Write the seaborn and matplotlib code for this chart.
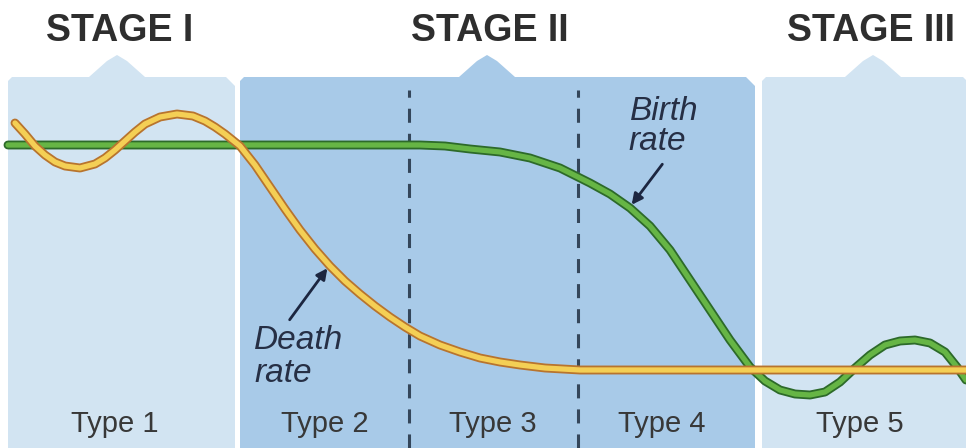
import matplotlib
matplotlib.use("Agg")
import matplotlib.pyplot as plt
import matplotlib.patheffects as pe
from matplotlib.patches import Polygon
import seaborn as sns

# curve points (x = time, y = rate, arbitrary units)
birth_x = [8, 420, 445, 470, 500, 530, 560, 590, 610, 630, 650, 670, 690, 710, 730,
           750, 765, 780, 795, 810, 825, 840, 855, 870, 885, 900, 915, 930, 945, 957, 966]
birth_y = [303, 303, 302, 299, 296, 290, 280, 265, 254, 240, 222, 198, 168, 138, 108,
           81, 67, 58, 54, 53, 56, 66, 80, 93, 103, 107, 108, 105, 96, 81, 68]

death_x = [15, 25, 35, 45, 55, 65, 80, 95, 105, 115, 125, 135, 145, 160, 177, 193, 205,
           215, 225, 240, 255, 270, 285, 300, 315, 330, 345, 360, 375, 390, 405, 420,
           440, 460, 480, 500, 520, 545, 580, 966]
death_y = [325, 314, 302, 293, 286, 282, 280, 284, 290, 298, 307, 316, 324, 331, 334,
           332, 327, 321, 314, 302, 283, 261, 239, 218, 199, 182, 167, 154, 142, 131,
           121, 112, 103, 96, 90, 86, 83, 80, 78, 78]

stages = ["STAGE I", "STAGE II", "STAGE III"]
types = ["Type 1", "Type 2", "Type 3", "Type 4", "Type 5"]

sns.set_theme(style="white")
plt.rcParams['font.family'] = ['Liberation Sans', 'DejaVu Sans']

fig = plt.figure(figsize=(9.66, 4.48), dpi=100)
ax = fig.add_axes([0, 0, 1, 1])
ax.set_xlim(0, 966)
ax.set_ylim(0, 448)
ax.axis("off")


def panel(x0, x1, tab_x, color, top=371):
    pts = [(x0, 0), (x0, top - 4), (x0 + 4, top), (tab_x - 28, top), (tab_x - 10, top + 16),
           (tab_x, top + 22), (tab_x + 10, top + 16), (tab_x + 28, top),
           (x1 - 9, top), (x1, top - 9), (x1, 0)]
    ax.add_patch(Polygon(pts, closed=True, facecolor=color, edgecolor="none", zorder=0))


light = "#d2e4f2"
mid = "#a8cae8"
panel(8, 235, 117, light)
panel(240, 755, 487, mid)
panel(762, 972, 873, light)

# stage headings
for label, xc in zip(stages, [120, 490, 871]):
    ax.text(xc, 417, label, ha="center", va="center", fontsize=27,
            fontweight="bold", color="#2e2e2e")

# type dividers inside stage II
for xd in [409, 578]:
    ax.plot([xd, xd], [0, 358], color="#34465a", lw=2.2,
            linestyle=(0, (4.6, 3.6)), zorder=1)

# type labels
for label, xc in zip(types, [115, 325, 493, 662, 860]):
    ax.text(xc, 24, label, ha="center", va="center", fontsize=21, color="#383838")

green_fx = [pe.Stroke(linewidth=6.4, foreground="#2d6a2a", joinstyle="round"), pe.Normal()]
yellow_fx = [pe.Stroke(linewidth=6.4, foreground="#b8742e", joinstyle="round"), pe.Normal()]

sns.lineplot(x=birth_x, y=birth_y, ax=ax, color="#66b545", lw=3.8, sort=False,
             solid_joinstyle="round", path_effects=green_fx, zorder=3)
sns.lineplot(x=death_x, y=death_y, ax=ax, color="#f4cf55", lw=3.8, sort=False,
             solid_joinstyle="round", path_effects=yellow_fx, zorder=4)

# annotations
note = dict(fontsize=24, fontstyle="italic", color="#262f45", ha="left", va="baseline")
ax.text(630, 328, "Birth", **note)
ax.text(628, 298, "rate", **note)
ax.annotate("", xy=(630, 241), xytext=(664, 286),
            arrowprops=dict(arrowstyle="-|>", color="#1c2640", lw=2.0,
                            mutation_scale=16))

ax.text(254, 99, "Death", **note)
ax.text(254, 66, "rate", **note)
ax.annotate("", xy=(329, 182), xytext=(288, 126),
            arrowprops=dict(arrowstyle="-|>", color="#1c2640", lw=2.0,
                            mutation_scale=16))

fig.savefig("out.png", dpi=100, facecolor="white")
